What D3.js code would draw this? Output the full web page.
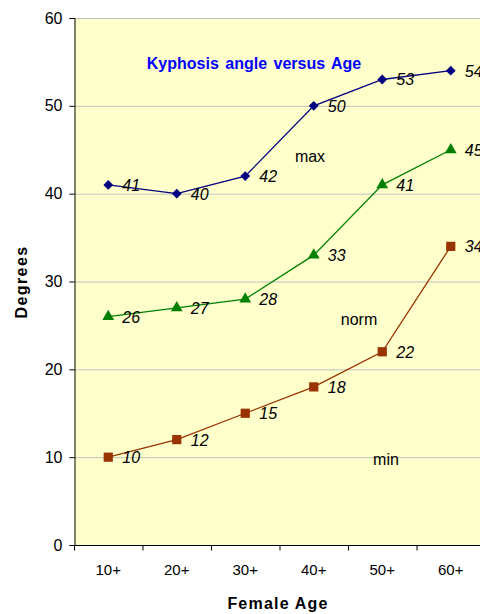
<!DOCTYPE html>
<html>
<head>
<meta charset="utf-8">
<script src="https://cdn.jsdelivr.net/npm/d3@7"></script>
<style>
  html, body { margin: 0; padding: 0; background: #fff; }
  svg { display: block; font-family: "Liberation Sans", Arial, sans-serif; }
</style>
</head>
<body>
<svg id="chart" width="480" height="614"></svg>
<script>
// Kyphosis angle by female age group
const ageGroups = ["10+", "20+", "30+", "40+", "50+", "60+"];
const maxValues = [41, 40, 42, 50, 53, 54];
const normValues = [26, 27, 28, 33, 41, 45];
const minValues = [10, 12, 15, 18, 22, 34];
const yTicks = [0, 10, 20, 30, 40, 50, 60];

const svg = d3.select("#chart");
const plotLeft = 74, plotTop = 18, plotRight = 485, plotBottom = 545;

const x = d3.scaleBand().domain(ageGroups).range([plotLeft, plotRight]);
const y = d3.scaleLinear().domain([0, 60]).range([plotBottom, plotTop]);
const cx = d => x(d) + x.bandwidth() / 2;

// plot area
svg.append("rect")
  .attr("x", plotLeft).attr("y", plotTop)
  .attr("width", plotRight - plotLeft).attr("height", plotBottom - plotTop)
  .attr("fill", "#FFFFCC");

// horizontal gridlines
svg.append("g")
  .selectAll("line")
  .data(yTicks.filter(t => t > 0))
  .join("line")
  .attr("x1", plotLeft).attr("x2", plotRight)
  .attr("y1", d => y(d) + 0.5).attr("y2", d => y(d) + 0.5)
  .attr("stroke", "#c0c0c0").attr("stroke-width", 1);

// y axis
const yAxis = svg.append("g")
  .attr("transform", `translate(${plotLeft + 0.5},0)`)
  .call(d3.axisLeft(y).tickValues(yTicks).tickSize(5).tickPadding(7));
yAxis.select(".domain").attr("stroke", "#000");
yAxis.selectAll(".tick line").attr("stroke", "#000");
yAxis.selectAll("text").attr("font-size", 16).attr("fill", "#000")
  .attr("font-family", "Liberation Sans, Arial, sans-serif");

// x axis: ticks on band boundaries
const xAxis = svg.append("g")
  .attr("transform", `translate(0,${plotBottom + 0.5})`);
xAxis.append("line")
  .attr("x1", plotLeft).attr("x2", plotRight).attr("stroke", "#000");
xAxis.selectAll("line.tick")
  .data(ageGroups)
  .join("line").attr("class", "tick")
  .attr("x1", d => x(d) + 0.5).attr("x2", d => x(d) + 0.5)
  .attr("y1", 0).attr("y2", 5)
  .attr("stroke", "#000");
xAxis.selectAll("text")
  .data(ageGroups)
  .join("text")
  .attr("x", d => cx(d)).attr("y", 29)
  .attr("text-anchor", "middle")
  .attr("font-size", 15).attr("fill", "#000")
  .text(d => d);

// axis titles
svg.append("text")
  .attr("x", 278).attr("y", 609)
  .attr("text-anchor", "middle")
  .attr("font-size", 16).attr("font-weight", "bold")
  .attr("letter-spacing", 1.2)
  .text("Female Age");
svg.append("text")
  .attr("transform", "translate(27,282) rotate(-90)")
  .attr("text-anchor", "middle")
  .attr("font-size", 16).attr("font-weight", "bold")
  .attr("letter-spacing", 1.4)
  .text("Degrees");

// chart title
svg.append("text")
  .attr("x", 254).attr("y", 69)
  .attr("text-anchor", "middle")
  .attr("font-size", 16).attr("font-weight", "bold")
  .attr("word-spacing", 2)
  .attr("fill", "#0000FF")
  .text("Kyphosis angle versus Age");

// square diamond: a square turned 45 degrees
const symbolSquareDiamond = {
  draw(context, size) {
    const r = Math.sqrt(size / 2);
    context.moveTo(0, -r);
    context.lineTo(r, 0);
    context.lineTo(0, r);
    context.lineTo(-r, 0);
    context.closePath();
  }
};

const series = [
  { name: "max", values: maxValues, color: "#000080", symbol: symbolSquareDiamond, size: 48 },
  { name: "norm", values: normValues, color: "#008000", symbol: d3.symbolTriangle, size: 60 },
  { name: "min", values: minValues, color: "#993300", symbol: d3.symbolSquare, size: 85 }
];

const line = d3.line().x(d => cx(d.age)).y(d => y(d.v));

series.forEach(s => {
  const pts = ageGroups.map((a, i) => ({ age: a, v: s.values[i] }));
  const g = svg.append("g");
  g.append("path")
    .datum(pts)
    .attr("d", line)
    .attr("fill", "none")
    .attr("stroke", s.color).attr("stroke-width", 1.3);
  g.selectAll("path.sym")
    .data(pts)
    .join("path").attr("class", "sym")
    .attr("transform", d => `translate(${cx(d.age)},${y(d.v)})`)
    .attr("d", d3.symbol().type(s.symbol).size(s.size))
    .attr("fill", s.color);
  g.selectAll("text")
    .data(pts)
    .join("text")
    .attr("x", d => cx(d.age) + 14)
    .attr("y", d => y(d.v) + 6)
    .attr("font-size", 16).attr("font-style", "italic")
    .attr("fill", "#000")
    .text(d => d.v);
});

// series name annotations
const seriesNotes = [
  { text: "max", x: 310, y: 162 },
  { text: "norm", x: 359, y: 325 },
  { text: "min", x: 386, y: 465 }
];
svg.selectAll("text.note")
  .data(seriesNotes)
  .join("text").attr("class", "note")
  .attr("x", d => d.x).attr("y", d => d.y)
  .attr("text-anchor", "middle")
  .attr("font-size", 16).attr("fill", "#000")
  .text(d => d.text);
</script>
</body>
</html>
